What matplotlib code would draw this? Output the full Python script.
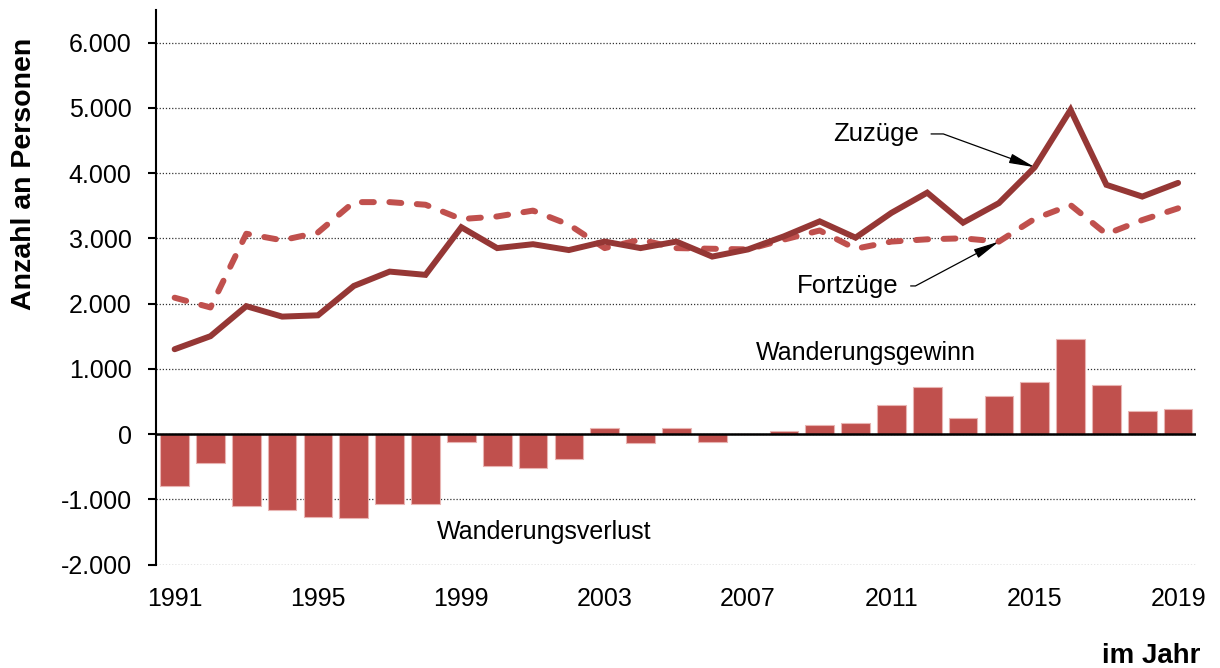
import matplotlib
matplotlib.use("Agg")
import matplotlib.pyplot as plt
from matplotlib.ticker import FuncFormatter, MultipleLocator

plt.rcParams['font.family'] = ['Liberation Sans', 'DejaVu Sans']

# Daten
years = list(range(1991, 2020))
zuzuege = [1300, 1500, 1960, 1800, 1820, 2270, 2490, 2440, 3170, 2850,
           2910, 2820, 2950, 2850, 2950, 2720, 2830, 3030, 3260, 3010,
           3390, 3700, 3240, 3540, 4090, 4970, 3820, 3640, 3850]
fortzuege = [2090, 1940, 3070, 2970, 3090, 3555, 3555, 3515, 3295, 3335,
             3425, 3210, 2850, 2980, 2850, 2840, 2830, 2980, 3120, 2840,
             2950, 2985, 3000, 2950, 3300, 3510, 3065, 3280, 3460]
saldo = [-790, -440, -1110, -1170, -1270, -1285, -1065, -1075, -125, -485,
         -515, -390, 100, -130, 100, -120, 0, 50, 140, 175,
         440, 715, 240, 590, 790, 1460, 755, 360, 390]
xtick_years = list(range(1991, 2020, 4))

fig = plt.figure(figsize=(12.2, 6.68), dpi=100)
ax = fig.add_axes([156 / 1220, 1 - 564.5 / 668, 1040 / 1220, 554.5 / 668])

# Gitter
ax.set_axisbelow(True)
ax.yaxis.grid(True, linestyle=(0, (1, 1.5)), color='#333333', linewidth=0.9)

ax.bar(years, saldo, width=0.8, color='#C0504D', edgecolor='#E8B4B2',
       linewidth=0.8, zorder=2)
ax.axhline(0, color='black', linewidth=1.8, zorder=3)

ax.plot(years, fortzuege, color='#C0504D', linewidth=4.3,
        dashes=(2.0, 2.6), dash_capstyle='round', zorder=4)
ax.plot(years, zuzuege, color='#953735', linewidth=4.3,
        solid_joinstyle='miter', solid_capstyle='round', zorder=5)

ax.set_xlim(1990.48, 2019.5)
ax.set_ylim(-2000, 6500)
ax.yaxis.set_major_locator(MultipleLocator(1000))
ax.yaxis.set_major_formatter(FuncFormatter(lambda v, p: f"{int(v):,}".replace(",", ".")))
ax.set_xticks(xtick_years)
ax.set_xticklabels([str(y) for y in xtick_years])

for s in ['top', 'right', 'bottom']:
    ax.spines[s].set_visible(False)
ax.spines['left'].set_linewidth(1.5)
ax.tick_params(axis='y', direction='out', length=5.5, width=1.5, pad=12,
               labelsize=18)
ax.tick_params(axis='x', length=0, pad=16, labelsize=18)

fig.text(24 / 1220, 1 - 174 / 668, "Anzahl an Personen", rotation=90,
         ha='center', va='center', fontsize=20.5, fontweight='bold')
fig.text(1200 / 1220, 1 - 656 / 668, "im Jahr", ha='right', va='center',
         fontsize=20, fontweight='bold')

ax.text(2010.3, 1235, "Wanderungsgewinn", ha='center', va='center', fontsize=18)
ax.text(2001.3, -1500, "Wanderungsverlust", ha='center', va='center', fontsize=18)

arrow_kw = dict(arrowstyle='-|>,head_length=0.85,head_width=0.16', color='black',
                linewidth=0.9, shrinkA=7, shrinkB=0)
ax.annotate("Zuzüge", xy=(2015, zuzuege[24]), xytext=(2010.56, 4600),
            ha='center', va='center', fontsize=18.5,
            arrowprops=dict(connectionstyle="angle,angleA=0,angleB=-20,rad=0", **arrow_kw))
ax.annotate("Fortzüge", xy=(2014, fortzuege[23]), xytext=(2009.77, 2270),
            ha='center', va='center', fontsize=18.5,
            arrowprops=dict(connectionstyle="angle,angleA=0,angleB=28,rad=0", **arrow_kw))

fig.savefig("out.png", dpi=100)
